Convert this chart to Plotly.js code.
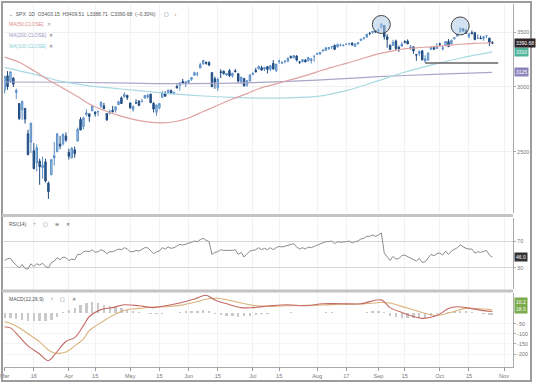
<!DOCTYPE html>
<html><head><meta charset="utf-8">
<script src="https://cdn.plot.ly/plotly-3.0.1.min.js"></script>
<style>html,body{margin:0;padding:0;background:#fff}#chart{width:536px;height:387px}</style>
</head><body><div id="chart"></div>
<script>
// ---------- data ----------
const dates = [
'2020-03-02','2020-03-03','2020-03-04','2020-03-05','2020-03-06','2020-03-09','2020-03-10','2020-03-11','2020-03-12','2020-03-13','2020-03-16','2020-03-17','2020-03-18','2020-03-19','2020-03-20','2020-03-23','2020-03-24','2020-03-25','2020-03-26','2020-03-27','2020-03-30','2020-03-31',
'2020-04-01','2020-04-02','2020-04-03','2020-04-06','2020-04-07','2020-04-08','2020-04-09','2020-04-13','2020-04-14','2020-04-15','2020-04-16','2020-04-17','2020-04-20','2020-04-21','2020-04-22','2020-04-23','2020-04-24','2020-04-27','2020-04-28','2020-04-29','2020-04-30',
'2020-05-01','2020-05-04','2020-05-05','2020-05-06','2020-05-07','2020-05-08','2020-05-11','2020-05-12','2020-05-13','2020-05-14','2020-05-15','2020-05-18','2020-05-19','2020-05-20','2020-05-21','2020-05-22','2020-05-26','2020-05-27','2020-05-28','2020-05-29',
'2020-06-01','2020-06-02','2020-06-03','2020-06-04','2020-06-05','2020-06-08','2020-06-09','2020-06-10','2020-06-11','2020-06-12','2020-06-15','2020-06-16','2020-06-17','2020-06-18','2020-06-19','2020-06-22','2020-06-23','2020-06-24','2020-06-25','2020-06-26','2020-06-29','2020-06-30',
'2020-07-01','2020-07-02','2020-07-06','2020-07-07','2020-07-08','2020-07-09','2020-07-10','2020-07-13','2020-07-14','2020-07-15','2020-07-16','2020-07-17','2020-07-20','2020-07-21','2020-07-22','2020-07-23','2020-07-24','2020-07-27','2020-07-28','2020-07-29','2020-07-30','2020-07-31',
'2020-08-03','2020-08-04','2020-08-05','2020-08-06','2020-08-07','2020-08-10','2020-08-11','2020-08-12','2020-08-13','2020-08-14','2020-08-17','2020-08-18','2020-08-19','2020-08-20','2020-08-21','2020-08-24','2020-08-25','2020-08-26','2020-08-27','2020-08-28','2020-08-31',
'2020-09-01','2020-09-02','2020-09-03','2020-09-04','2020-09-08','2020-09-09','2020-09-10','2020-09-11','2020-09-14','2020-09-15','2020-09-16','2020-09-17','2020-09-18','2020-09-21','2020-09-22','2020-09-23','2020-09-24','2020-09-25','2020-09-28','2020-09-29','2020-09-30',
'2020-10-01','2020-10-02','2020-10-05','2020-10-06','2020-10-07','2020-10-08','2020-10-09','2020-10-12','2020-10-13','2020-10-14','2020-10-15','2020-10-16','2020-10-19','2020-10-20','2020-10-21','2020-10-22','2020-10-23','2020-10-26','2020-10-27'];

const open = [
2974.28,3096.46,3045.75,3075.70,2954.20,2863.89,2813.48,2825.60,2630.86,2569.99,2508.59,2425.66,2436.50,2393.48,2431.94,2290.71,2344.44,2457.77,2501.29,2555.87,2558.98,2614.69,
2498.08,2458.54,2514.92,2578.28,2738.65,2685.00,2776.99,2782.46,2805.10,2795.64,2799.34,2842.43,2845.62,2784.81,2787.89,2810.42,2812.64,2854.65,2909.96,2918.46,2930.91,
2869.09,2815.01,2868.88,2883.14,2878.26,2908.83,2915.46,2939.50,2865.86,2794.54,2829.95,2913.86,2948.59,2953.63,2969.95,2948.05,3004.08,3015.65,3046.61,3025.17,
3038.78,3064.78,3098.90,3111.56,3163.84,3199.92,3213.32,3213.42,3123.53,3071.04,2993.76,3131.00,3136.13,3101.64,3140.29,3094.42,3138.70,3114.40,3046.60,3073.20,3018.59,3050.20,
3105.92,3143.64,3155.29,3166.44,3153.07,3176.17,3152.47,3205.08,3141.11,3225.98,3208.36,3224.21,3224.29,3268.52,3254.86,3271.64,3218.58,3219.84,3234.27,3227.22,3231.76,3270.45,
3288.26,3289.92,3317.37,3323.17,3340.05,3356.04,3370.34,3355.46,3372.95,3368.66,3380.86,3387.04,3392.51,3360.48,3386.01,3418.09,3435.95,3449.97,3485.14,3494.69,3509.73,
3507.44,3543.76,3564.74,3453.60,3371.88,3369.82,3412.56,3352.70,3363.56,3407.73,3411.23,3346.86,3357.38,3285.57,3295.75,3320.11,3226.14,3236.66,3333.90,3350.92,3341.21,
3385.87,3338.94,3367.27,3408.74,3384.56,3434.28,3459.67,3500.02,3534.01,3515.47,3453.72,3493.50,3493.66,3439.38,3439.91,3438.50,3464.90,3441.42,3403.15];

const high = [
3090.96,3136.72,3130.97,3083.04,2985.93,2863.89,2882.59,2825.60,2660.95,2711.33,2562.98,2553.93,2453.57,2466.97,2453.01,2300.73,2449.71,2571.42,2637.01,2615.91,2631.80,2641.39,
2522.75,2533.22,2538.18,2676.85,2756.89,2760.75,2818.57,2782.46,2851.85,2801.88,2806.51,2879.22,2868.98,2785.54,2815.10,2844.90,2842.71,2887.72,2921.15,2954.86,2930.91,
2869.09,2844.24,2898.23,2891.11,2901.92,2932.16,2944.25,2945.82,2874.14,2852.80,2865.01,2968.09,2964.21,2980.29,2978.50,2956.76,3021.72,3036.25,3068.67,3049.17,
3062.18,3081.07,3130.94,3128.91,3211.72,3233.13,3222.71,3223.27,3123.53,3088.42,3079.76,3153.45,3141.16,3120.00,3155.53,3120.92,3154.90,3115.01,3086.25,3073.73,3053.89,3111.51,
3128.44,3165.81,3182.59,3184.15,3171.80,3179.78,3186.82,3235.32,3200.95,3238.28,3220.39,3233.52,3258.61,3277.29,3279.32,3279.99,3227.26,3241.43,3243.72,3264.74,3250.92,3272.17,
3302.73,3306.84,3330.77,3351.03,3352.54,3363.29,3381.01,3387.89,3387.24,3378.51,3387.59,3395.06,3399.54,3390.80,3399.96,3432.09,3444.21,3481.07,3501.38,3509.23,3514.77,
3528.03,3588.11,3564.85,3479.15,3379.97,3424.77,3425.55,3368.95,3402.93,3419.48,3428.92,3375.17,3362.27,3285.57,3320.31,3323.35,3278.70,3306.88,3360.74,3357.92,3393.56,
3397.18,3369.10,3409.57,3431.56,3426.26,3447.28,3482.34,3549.85,3534.01,3527.94,3489.08,3515.76,3502.42,3476.93,3464.86,3460.53,3466.46,3441.42,3409.51];

const low = [
2945.19,2976.63,3034.38,2999.83,2901.54,2734.43,2734.00,2707.22,2478.86,2492.37,2380.94,2367.04,2280.52,2319.78,2295.56,2191.86,2344.44,2407.53,2500.72,2520.02,2545.28,2571.15,
2447.49,2455.79,2459.96,2574.57,2657.67,2663.30,2762.36,2721.17,2805.10,2761.54,2764.32,2830.88,2820.43,2727.10,2775.95,2794.26,2791.76,2852.89,2860.71,2912.16,2892.47,
2821.61,2797.85,2863.55,2847.65,2876.48,2902.88,2903.44,2869.59,2793.15,2766.64,2816.78,2913.86,2922.35,2953.63,2938.57,2933.59,2988.17,2969.75,3023.40,2998.61,
3031.54,3051.64,3098.90,3090.41,3163.84,3196.00,3193.11,3181.49,2999.49,2984.47,2965.66,3076.06,3108.03,3093.51,3083.11,3079.39,3127.12,3032.13,3024.01,3004.63,2999.74,3047.83,
3101.17,3124.52,3155.29,3142.93,3136.53,3115.70,3136.22,3149.43,3127.66,3200.76,3198.59,3205.65,3215.16,3247.77,3253.10,3222.66,3200.05,3214.25,3216.17,3227.22,3204.13,3220.26,
3284.53,3286.37,3317.37,3318.14,3328.72,3335.44,3326.44,3355.46,3363.35,3361.64,3379.22,3370.15,3369.66,3354.69,3379.31,3413.13,3425.84,3444.15,3468.35,3484.32,3493.25,
3494.60,3535.23,3427.41,3349.63,3329.27,3366.84,3329.25,3310.47,3363.56,3389.25,3384.45,3328.82,3292.40,3229.10,3270.95,3232.57,3209.45,3228.44,3332.91,3327.54,3340.47,
3361.39,3323.69,3367.27,3354.54,3384.56,3428.15,3458.07,3499.61,3500.86,3480.55,3440.89,3483.34,3419.93,3435.65,3433.06,3415.34,3440.45,3364.86,3388.71];

const close = [
3090.23,3003.37,3130.12,3023.94,2972.37,2746.56,2882.23,2741.38,2480.64,2711.02,2386.13,2529.19,2398.10,2409.39,2304.92,2237.40,2447.33,2475.56,2630.07,2541.47,2626.65,2584.59,
2470.50,2526.90,2488.65,2663.68,2659.41,2749.98,2789.82,2761.63,2846.06,2783.36,2799.55,2874.56,2823.16,2736.56,2799.31,2797.80,2836.74,2878.48,2863.39,2939.51,2912.43,
2830.71,2842.74,2868.44,2848.42,2881.19,2929.80,2930.32,2870.12,2820.00,2852.50,2863.70,2953.91,2922.94,2971.61,2948.51,2955.45,2991.77,3036.13,3029.73,3044.31,
3055.73,3080.82,3122.87,3112.35,3193.93,3232.39,3207.18,3190.14,3002.10,3041.31,3066.59,3124.74,3113.49,3115.34,3097.74,3117.86,3131.29,3050.33,3083.76,3009.05,3053.24,3100.29,
3115.86,3130.01,3179.72,3145.32,3169.94,3152.05,3185.04,3155.22,3197.52,3226.56,3215.57,3224.73,3251.84,3257.30,3276.02,3235.66,3215.63,3239.41,3218.44,3258.44,3246.22,3271.12,
3294.61,3306.51,3327.77,3349.16,3351.28,3360.47,3333.69,3380.35,3373.43,3372.85,3381.99,3389.78,3374.85,3385.51,3397.16,3431.28,3443.62,3478.73,3484.55,3508.01,3500.31,
3526.65,3580.84,3455.06,3426.96,3331.84,3398.96,3339.19,3340.97,3383.54,3401.20,3385.49,3357.01,3319.47,3281.06,3315.57,3236.92,3246.59,3298.46,3351.60,3335.47,3363.00,
3380.80,3348.42,3408.60,3360.97,3419.44,3446.83,3477.14,3534.22,3511.93,3488.67,3483.34,3483.81,3426.92,3443.12,3435.56,3453.49,3465.39,3400.97,3390.68];

const ma50Dates = ['2020-03-02','2020-03-09','2020-03-16','2020-03-23','2020-03-30','2020-04-06','2020-04-13','2020-04-20','2020-04-27','2020-05-04','2020-05-11','2020-05-18','2020-05-26','2020-06-01','2020-06-08','2020-06-15','2020-06-22','2020-06-29','2020-07-06','2020-07-13','2020-07-20','2020-07-27','2020-08-03','2020-08-10','2020-08-17','2020-08-24','2020-08-31','2020-09-08','2020-09-14','2020-09-21','2020-09-28','2020-10-05','2020-10-12','2020-10-19','2020-10-27'];
const ma50 = [3262,3215,3140,3060,2990,2920,2860,2810,2770,2740,2720,2712,2725,2750,2800,2850,2900,2945,2985,3020,3055,3090,3130,3170,3205,3245,3285,3315,3335,3348,3358,3370,3382,3390,3396];

const ma100Dates = ['2020-03-02','2020-03-16','2020-03-30','2020-04-13','2020-04-27','2020-05-11','2020-05-26','2020-06-08','2020-06-22','2020-07-06','2020-07-20','2020-08-03','2020-08-17','2020-08-31','2020-09-14','2020-09-28','2020-10-12','2020-10-27'];
const ma100 = [3170,3110,3045,3010,2985,2962,2940,2925,2914,2908,2910,2922,2970,3045,3120,3190,3252,3310];

const ma200Dates = ['2020-03-02','2020-04-01','2020-05-01','2020-06-01','2020-07-01','2020-08-03','2020-09-01','2020-10-01','2020-10-27'];
const ma200 = [3042,3040,3032,3028,3036,3058,3088,3110,3125];

const supportDates = ['2020-09-24','2020-10-29'];
const supportVals = [3209.45,3209.45];

const peakDates = ['2020-09-02','2020-10-12'];
const peakVals = [3575,3560];

const rsi = [
41,43.5,44,38,34,30,35,29,28,36,32,36,34,37,32,30,37.6,40,45,42,46,45,
41,43,42,50,50,54,55,54,57,53,54,57,55,51,54,54,56,58,57,60,58,
54,54,56,55,57,60,60,55,51,54,55,60,58,61,59,60,63,65,64,65,
66,68,70,69,72,74,71,69,50,53,54,57,56,56,55,56,57,50,53,46,51,55,
56,57,60,57,59,57,60,57,60,62,61,62,64,64,66,61,58,60,58,61,60,62,
64,65,67,69,69,70,66,69,68,68,69,70,67,69,70,73,74,77,77,79,77,
79,82,52,47,41,47,43,44,48,49,47,45,43,40,44,38,39,45,50,48,51,
52,49,55,50,55,57,60,64,61,59,58,58,52,54,53,55,56,49,46];

const macdDates = ['2020-03-02','2020-03-04','2020-03-09','2020-03-12','2020-03-18','2020-03-23','2020-03-25','2020-03-31','2020-04-03','2020-04-08','2020-04-13','2020-04-17','2020-04-23','2020-04-29','2020-05-06','2020-05-13','2020-05-19','2020-05-27','2020-06-03','2020-06-09','2020-06-12','2020-06-18','2020-06-25','2020-07-01','2020-07-10','2020-07-20','2020-07-28','2020-08-05','2020-08-13','2020-08-24','2020-09-02','2020-09-08','2020-09-14','2020-09-23','2020-09-30','2020-10-06','2020-10-09','2020-10-14','2020-10-22','2020-10-27'];
const macd = [-67,-71,-114,-160,-200,-233,-205,-138,-119,-60,-15,19,29,43,38,29,38,52,71,90,67,48,29,29,38,43,38,48,48,48,67,29,5,-24,-10,24,33,29,14,10];
const signal = [-40,-50,-70,-100,-140,-180,-195,-190,-160,-125,-85,-45,-10,15,25,32,33,40,55,70,75,68,52,40,35,38,40,42,46,47,54,52,35,5,-10,2,15,25,22,18];

const histDates = ['2020-03-02','2020-03-04','2020-03-06','2020-03-10','2020-03-12','2020-03-16','2020-03-18','2020-03-20','2020-03-24','2020-03-26','2020-03-30','2020-04-01','2020-04-03','2020-04-07','2020-04-09','2020-04-14','2020-04-16','2020-04-20','2020-04-22','2020-04-24','2020-04-28','2020-04-30','2020-05-04','2020-05-06','2020-05-08','2020-05-12','2020-05-14','2020-05-18','2020-05-20','2020-05-22','2020-05-27','2020-05-29','2020-06-02','2020-06-04','2020-06-08','2020-06-10','2020-06-12','2020-06-16','2020-06-18','2020-06-22','2020-06-24','2020-06-26','2020-06-30','2020-07-02','2020-07-07','2020-07-09','2020-07-13','2020-07-15','2020-07-17','2020-07-21','2020-07-23','2020-07-27','2020-07-29','2020-07-31','2020-08-04','2020-08-06','2020-08-10','2020-08-12','2020-08-14','2020-08-18','2020-08-20','2020-08-24','2020-08-26','2020-08-28','2020-09-01','2020-09-03','2020-09-08','2020-09-10','2020-09-14','2020-09-16','2020-09-18','2020-09-22','2020-09-24','2020-09-28','2020-09-30','2020-10-02','2020-10-06','2020-10-08','2020-10-12','2020-10-14','2020-10-16','2020-10-20','2020-10-22','2020-10-26','2020-10-27'];
const hist = [-20,-22,-25,-30,-35,-38,-35,-38,-30,-15,5,15,25,40,52,55,50,42,38,32,25,18,10,5,2,-3,-5,-2,2,4,8,10,12,14,16,10,-2,-8,-12,-14,-16,-14,-10,-6,-3,-1,2,3,4,5,3,1,0,2,4,6,6,4,3,2,1,3,6,10,12,5,-10,-16,-20,-20,-22,-22,-20,-12,-5,0,6,10,14,10,6,0,-5,-8,-9];

const tickDates = ['2020-03-02','2020-03-16','2020-04-01','2020-04-15','2020-05-01','2020-05-15','2020-06-01','2020-06-15','2020-07-01','2020-07-15','2020-08-03','2020-08-17','2020-09-01','2020-09-15','2020-10-01','2020-10-15','2020-11-02'];
const tickText = ['Mar','16','Apr','15','May','15','Jun','15','Jul','15','Aug','17','Sep','15','Oct','15','Nov'];

const holidays = ['2020-04-10','2020-05-25','2020-07-03','2020-09-07'];

// ---------- helpers for pixel placement ----------
const L=4, R=513, T=4, B=367;
const px = x => (x - L) / (R - L);
const py = y => (B - y) / (B - T);
const lg = v => Math.log10(v);

const traces = [
  {type:'candlestick', x:dates, open:open, high:high, low:low, close:close, xaxis:'x', yaxis:'y',
   increasing:{line:{color:'#5b8fc7',width:1}, fillcolor:'#a9c9ea'},
   decreasing:{line:{color:'#1e4a80',width:1}, fillcolor:'#2f5f9a'}, hoverinfo:'skip'},
  {type:'scatter', mode:'lines', x:ma200Dates, y:ma200, yaxis:'y', line:{color:'#aaa6c8',width:1.2,shape:'spline'}},
  {type:'scatter', mode:'lines', x:ma100Dates, y:ma100, yaxis:'y', line:{color:'#a9d9e3',width:1.2,shape:'spline'}},
  {type:'scatter', mode:'lines', x:ma50Dates, y:ma50, yaxis:'y', line:{color:'#e0a2a2',width:1.2,shape:'spline'}},
  {type:'scatter', mode:'lines', x:supportDates, y:supportVals, yaxis:'y', line:{color:'#666',width:1.5}},
  {type:'scatter', mode:'markers', x:peakDates, y:peakVals, yaxis:'y',
   marker:{symbol:'circle', size:18, color:'rgba(175,203,230,0.55)', line:{color:'#444',width:1}}},
  {type:'scatter', mode:'lines', x:dates, y:rsi, yaxis:'y2', line:{color:'#8c8c8c',width:1}},
  {type:'bar', x:histDates, y:hist, yaxis:'y3', marker:{color:'#c9c9c9'}, width:0.8*86400000},
  {type:'scatter', mode:'lines', x:macdDates, y:signal, yaxis:'y3', line:{color:'#d9b27a',width:1.1,shape:'spline'}},
  {type:'scatter', mode:'lines', x:macdDates, y:macd, yaxis:'y3', line:{color:'#c46a64',width:1.1,shape:'spline'}}
];

const small = {family:'Liberation Sans, Arial, sans-serif', size:5.5, color:'#777'};

const layout = {
  width:536, height:387,
  margin:{l:L, r:536-R, t:T, b:387-B},
  paper_bgcolor:'#fff', plot_bgcolor:'#fff',
  showlegend:false, bargap:0,
  font:{family:'Liberation Sans, Arial, sans-serif', size:6, color:'#666'},
  xaxis:{type:'date', anchor:'y3',
    range:['2020-02-28 19:00','2020-11-05 02:00'],
    rangebreaks:[{bounds:['sat','mon']},{values:holidays}],
    rangeslider:{visible:false},
    tickmode:'array', tickvals:tickDates, ticktext:tickText, ticklabeloverflow:'allow',
    ticks:'outside', ticklen:3, tickcolor:'#999', tickfont:small,
    showgrid:true, gridcolor:'#f1f1f1', showline:true, linecolor:'#aaa', linewidth:1},
  yaxis:{domain:[py(213),1], type:'log', range:[3.3236,3.5782], side:'right', anchor:'x',
    tickmode:'array', tickvals:[2500,3000,3500], ticktext:['2500','3000','3500'],
    ticks:'outside', ticklen:2, tickcolor:'#aaa', tickfont:small,
    showgrid:true, gridcolor:'#f1f1f1', showline:true, linecolor:'#aaa', zeroline:false},
  yaxis2:{domain:[py(289),py(218)], range:[-1.6,104.3], side:'right', anchor:'x',
    tickmode:'array', tickvals:[30,70], ticktext:['30','70'],
    ticks:'outside', ticklen:2, tickcolor:'#aaa', tickfont:small,
    showgrid:true, gridcolor:'#d6d6d6', showline:true, linecolor:'#aaa', zeroline:false},
  yaxis3:{domain:[0,py(293)], range:[-264,101], side:'right', anchor:'x',
    tickmode:'array', tickvals:[-200,-150,-100,-50], ticktext:['-200','-150','-100','-50'],
    ticks:'outside', ticklen:2, tickcolor:'#aaa', tickfont:small,
    showgrid:true, gridcolor:'#f4f4f4', showline:true, linecolor:'#aaa', zeroline:false},
  shapes:[
    {type:'rect', xref:'paper', yref:'paper', x0:px(2), x1:px(531), y0:py(381), y1:py(2), line:{color:'#9c9c9c',width:2}},
    {type:'rect', xref:'paper', yref:'paper', x0:px(2), x1:1, y0:py(217), y1:py(214), fillcolor:'#c4c4c4', line:{width:0}},
    {type:'rect', xref:'paper', yref:'paper', x0:px(2), x1:1, y0:py(292.5), y1:py(289.5), fillcolor:'#c4c4c4', line:{width:0}}
  ],
  annotations:[
    {xref:'paper', yref:'paper', x:px(7), y:py(14), xanchor:'left', yanchor:'middle', showarrow:false,
     text:'⌄  SPX  1D  O3403.15  H3409.51  L3388.71  C3390.68  (−0.30%)      ▢    ↓',
     font:{family:'Liberation Sans, Arial, sans-serif', size:5, color:'#555'}},
    {xref:'paper', yref:'paper', x:px(7), y:py(24), xanchor:'left', yanchor:'middle', showarrow:false,
     text:'<span style="color:#e08a8a">MA(50,CLOSE)</span>  <span style="color:#999">✕</span>', font:{size:5}},
    {xref:'paper', yref:'paper', x:px(7), y:py(35), xanchor:'left', yanchor:'middle', showarrow:false,
     text:'<span style="color:#9d98c0">MA(200,CLOSE)</span>  <span style="color:#666">✕</span>', font:{size:5}},
    {xref:'paper', yref:'paper', x:px(7), y:py(46), xanchor:'left', yanchor:'middle', showarrow:false,
     text:'<span style="color:#8ccfd8">MA(100,CLOSE)</span>  <span style="color:#666">✕</span>', font:{size:5}},
    {xref:'paper', yref:'paper', x:px(7), y:py(224), xanchor:'left', yanchor:'middle', showarrow:false,
     text:'RSI(14)     ↑     ▢     ⊖     ✕', font:{size:5, color:'#555'}},
    {xref:'paper', yref:'paper', x:px(7), y:py(299), xanchor:'left', yanchor:'middle', showarrow:false,
     text:'MACD(12,26,9)     ↑     ▢     ✕', font:{size:5, color:'#555'}},
    {xref:'paper', yref:'y', x:1.002, y:lg(ma200[ma200.length-1]), xanchor:'left', yanchor:'middle', showarrow:false,
     text:'3125', bgcolor:'#8b85bb', borderpad:1, font:{size:5, color:'#fff'}},
    {xref:'paper', yref:'y', x:1.002, y:lg(ma100[ma100.length-1]), xanchor:'left', yanchor:'middle', showarrow:false,
     text:'3310', bgcolor:'#4fb39a', borderpad:1, font:{size:5, color:'#fff'}},
    {xref:'paper', yref:'y', x:1.002, y:lg(close[close.length-1]), xanchor:'left', yanchor:'middle', showarrow:false,
     text:'3390.68', bgcolor:'#2e2429', borderpad:1, font:{size:5, color:'#fff'}},
    {xref:'paper', yref:'y2', x:1.002, y:rsi[rsi.length-1], xanchor:'left', yanchor:'middle', showarrow:false,
     text:'46.0', bgcolor:'#333', borderpad:1, font:{size:5, color:'#fff'}},
    {xref:'paper', yref:'y3', x:1.002, y:38, xanchor:'left', yanchor:'middle', showarrow:false,
     text:'10.2<br>18.0', bgcolor:'#7aab4c', borderpad:1, font:{size:5, color:'#fff'}}
  ]
};

Plotly.newPlot('chart', traces, layout, {staticPlot:true, displayModeBar:false});
</script>
</body></html>
